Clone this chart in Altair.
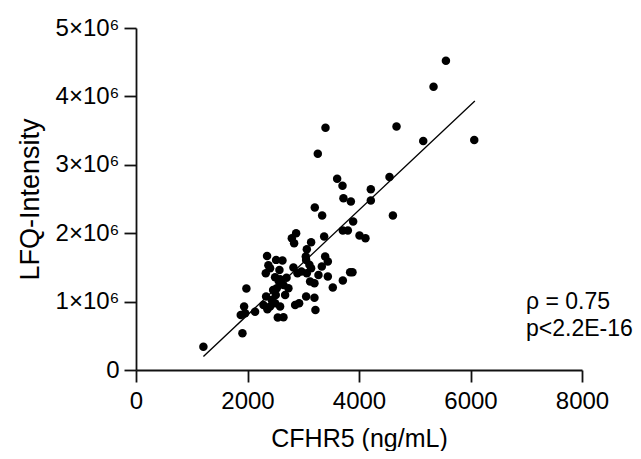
import altair as alt
import pandas as pd

# CFHR5 concentration (ng/mL) per sample
cfhr5 = [1209, 1909, 1980, 1939, 1879, 1957, 2136, 2286, 2357, 2334,
         2351, 2328, 2405, 2513, 2627, 2573, 2495, 2585, 2525, 2645,
         2734, 2507, 2675, 2495, 2585, 2405, 2543, 2645, 2854, 2926,
         3052, 3201, 3219, 2824, 2896, 2967, 3064, 3141, 3123, 3201,
         3273, 3333, 3393, 3441, 3441, 3530, 3710, 3841, 3883, 3046,
         3064, 3141, 3052, 2795, 2872, 2836, 3375, 3207, 3339, 3710,
         3800, 3895, 4009, 4116, 3721, 3854, 3608, 3704, 4212, 4212,
         4547, 4608, 3261, 3399, 4673, 5152, 6067, 5337, 5559,
         2375, 3110, 2460, 2436, 2560, 2700]

# LFQ intensity per sample, in millions
lfq_millions = [0.34, 0.537, 1.19, 0.927, 0.805, 0.83, 0.853, 0.951, 0.888, 1.073,
                1.668, 1.415, 1.488, 1.61, 1.60, 1.463, 1.356, 1.327, 1.195, 1.244,
                1.195, 1.098, 1.098, 0.976, 0.927, 0.927, 0.766, 0.771, 0.951, 0.976,
                1.073, 1.058, 0.878, 1.497, 1.415, 1.44, 1.415, 1.488, 1.293, 1.27,
                1.39, 1.512, 1.658, 1.585, 1.366, 1.205, 1.307, 1.43, 1.43, 1.658,
                1.766, 1.868, 1.61, 1.927, 2.0, 1.854, 1.951, 2.376, 2.259, 2.039,
                2.039, 2.171, 1.966, 1.927, 2.512, 2.464, 2.795, 2.693, 2.644, 2.478,
                2.82, 2.259, 3.161, 3.542, 3.561, 3.347, 3.361, 4.142, 4.522,
                1.53, 1.54, 1.17, 1.024, 1.30, 1.35]

x_ticks = [0, 2000, 4000, 6000, 8000]
y_ticks = [0, 1e6, 2e6, 3e6, 4e6, 5e6]
fit_extent = [1209, 6078]
annotations = ["ρ = 0.75", "p<2.2E-16"]

df = pd.DataFrame({"CFHR5": cfhr5, "LFQ": [v * 1e6 for v in lfq_millions]})

FONT = "Liberation Sans"
INK = "#111111"

x_enc = alt.X("CFHR5:Q",
              scale=alt.Scale(domain=[0, 8000], nice=False),
              axis=alt.Axis(values=x_ticks, title="CFHR5 (ng/mL)", grid=False,
                            format="d",
                            labelFontSize=24, labelPadding=7, tickSize=12,
                            titleFontSize=25, titleFontWeight="normal",
                            titleBaseline="alphabetic", titleY=76,
                            labelFlush=False))
y_enc = alt.Y("LFQ:Q",
              scale=alt.Scale(domain=[0, 5e6], nice=False),
              axis=alt.Axis(values=y_ticks, title="LFQ-Intensity", grid=False,
                            labelFontSize=24, labelPadding=5, tickSize=12,
                            labelExpr="datum.value == 0 ? '0' : format(datum.value / 1e6, 'd') + '×10⁶'",
                            titleFontSize=27, titleFontWeight="normal",
                            titleBaseline="alphabetic", titleX=-98,
                            labelFlush=False))

points = alt.Chart(df).mark_circle(size=72, color="black", opacity=1).encode(x=x_enc, y=y_enc)

fit = alt.Chart(df).transform_regression(
    "CFHR5", "LFQ", extent=fit_extent
).mark_line(color="black", strokeWidth=1.3).encode(x="CFHR5:Q", y="LFQ:Q")

t1 = alt.Chart(pd.DataFrame({"t": [annotations[0]]})).mark_text(
    font=FONT, fontSize=23, align="left", baseline="alphabetic", color="black"
).encode(text="t:N", x=alt.value(390), y=alt.value(281))
t2 = alt.Chart(pd.DataFrame({"t": [annotations[1]]})).mark_text(
    font=FONT, fontSize=23, align="left", baseline="alphabetic", color="black"
).encode(text="t:N", x=alt.value(390), y=alt.value(308))

chart = alt.layer(points, fit, t1, t2).properties(
    width=446, height=342,
    autosize=alt.AutoSizeParams(type="none"),
    padding={"left": 128, "top": 20, "right": 51, "bottom": 81},
).configure(font=FONT).configure_view(stroke=None).configure_axis(
    domainColor=INK, tickColor=INK, domainWidth=1.8, tickWidth=1.8,
    labelColor="black", titleColor="black", labelFont=FONT, titleFont=FONT,
)

chart.save("out.html", embed_options={"renderer": "svg", "actions": False})
